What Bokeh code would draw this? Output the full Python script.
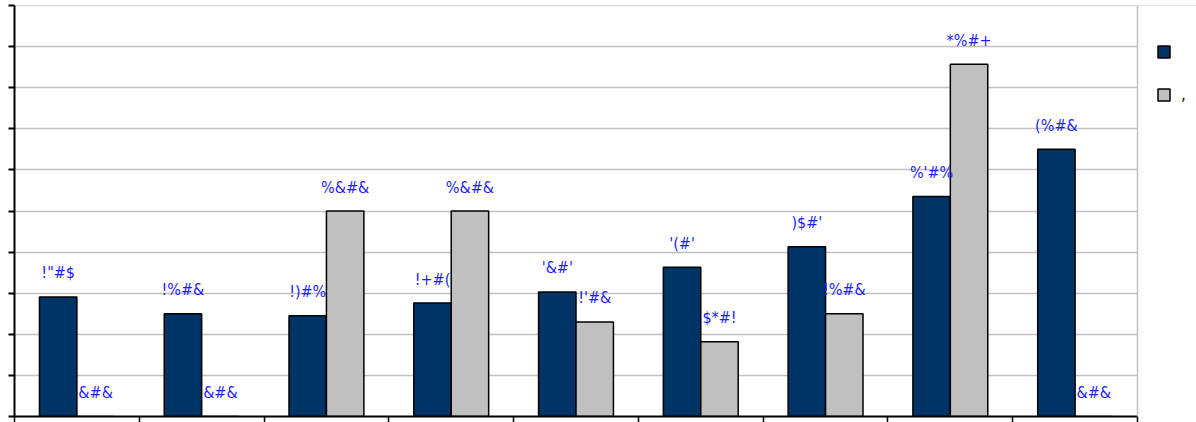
from bokeh.plotting import figure
from bokeh.models import (Range1d, FixedTicker, Legend, LegendItem, ColumnDataSource,
                          SingleIntervalTicker, CustomJSTickFormatter, BoxAnnotation, Span)
from bokeh.transform import dodge
from bokeh.core.properties import value
from bokeh.embed import file_html
from bokeh.resources import INLINE

categories = ["C1", "C2", "C3", "C4", "C5", "C6", "C7", "C8", "C9"]
series_a = [29.1, 25.0, 24.5, 27.6, 30.3, 36.3, 41.3, 53.5, 65.0]
series_b = [0.0, 0.0, 50.0, 50.0, 23.0, 18.2, 25.0, 85.7, 0.0]
labels_a = ['!"#$', '!%#&', '!)#%', '!+#(', "'&#'", "'(#'", ")$#'", "%'#%", "(%#&"]
labels_b = ["&#&", "&#&", "%&#&", "%&#&", "!'#&", "$*#!", "!%#&", "*%#+", "&#&"]
legend_labels = ["", ","]
y_max = 100

NAVY = "#003366"
GRAY = "#c0c0c0"
LABEL = "#1e1eff"
FONT = "'DejaVu Sans Condensed', 'Liberation Sans'"

n = len(categories)
pos = [i + 0.5 for i in range(n)]  # category slot centres
src = ColumnDataSource(dict(cat=categories, pos=pos, a=series_a, b=series_b,
                            la=labels_a, lb=labels_b))

# plot frame spans the full width; the legend strip right of the last slot is masked
FRAME_W = 1182
SLOT_W = 1123
p = figure(width=1196, height=422, x_range=Range1d(0, n * FRAME_W / SLOT_W),
           y_range=Range1d(0, y_max), output_backend="svg", toolbar_location=None,
           min_border_left=14, min_border_top=5,
           min_border_right=0, min_border_bottom=0)

p.background_fill_color = "white"
p.border_fill_color = "white"
p.outline_line_color = None

blank = CustomJSTickFormatter(code="return ''")

yax = p.yaxis[0]
yax.ticker = SingleIntervalTicker(interval=10, num_minor_ticks=0)
yax.formatter = blank
yax.major_label_standoff = 0
yax.major_tick_out = 6
yax.major_tick_in = 0
yax.minor_tick_out = 0
yax.axis_line_color = "black"
yax.axis_line_width = 2
yax.major_tick_line_width = 2

xax = p.xaxis[0]
xax.ticker = FixedTicker(ticks=list(range(n + 1)))
xax.formatter = blank
xax.bounds = (0, n)
xax.major_label_standoff = 0
xax.major_tick_out = 6
xax.major_tick_in = 0
xax.minor_tick_out = 0
xax.axis_line_width = 2
xax.major_tick_line_width = 1.5

p.ygrid.ticker = SingleIntervalTicker(interval=10, num_minor_ticks=0)
p.ygrid.grid_line_color = GRAY
p.ygrid.grid_line_width = 1.5
p.xgrid.grid_line_color = None

# top border of the plot area
p.add_layout(Span(location=y_max, dimension="width", line_color=GRAY,
                  line_width=1.5, level="underlay"))

ra = p.vbar(x=dodge("pos", -0.15), top="a", width=0.3, source=src,
            fill_color=NAVY, line_color="black", line_width=1.5)
rb = p.vbar(x=dodge("pos", 0.15), top="b", width=0.3, source=src,
            fill_color=GRAY, line_color="black", line_width=1.5)

p.text(x=dodge("pos", -0.15), y="a", text="la", source=src,
       text_align="center", text_baseline="alphabetic", y_offset=-24,
       text_font=value(FONT), text_font_size="16px", text_color=LABEL)
p.text(x=dodge("pos", 0.15), y="b", text="lb", source=src,
       text_align="center", text_baseline="alphabetic", y_offset=-24,
       text_font=value(FONT), text_font_size="16px", text_color=LABEL)

# mask the legend strip and draw the right border of the plot area
p.add_layout(BoxAnnotation(left=n, fill_color="white", fill_alpha=1,
                           line_color=None))
p.add_layout(Span(location=n, dimension="height", line_color=GRAY, line_width=1.5))

legend = Legend(items=[LegendItem(label=legend_labels[0], renderers=[ra]),
                       LegendItem(label=legend_labels[1], renderers=[rb])],
                location=(1142, 312), orientation="vertical",
                glyph_width=15, glyph_height=15, label_height=15, spacing=25,
                padding=0, margin=0, label_standoff=10,
                label_text_font=FONT, label_text_font_size="17px",
                label_text_color="#222222",
                border_line_color=None, background_fill_alpha=0)
p.add_layout(legend, "center")

open("out.html", "w").write(file_html(p, INLINE))
